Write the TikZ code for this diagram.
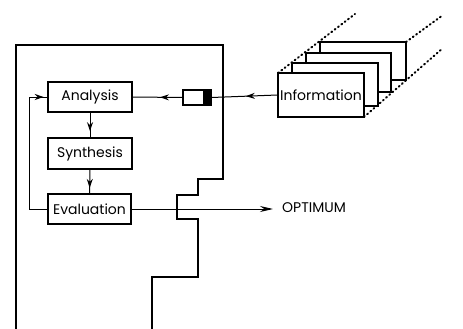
\documentclass[tikz,border=0pt]{standalone}
\usepackage{fontspec}
\setmainfont{Poppins}
\usetikzlibrary{arrows.meta,decorations.markings}
\tikzset{
  wall/.style={line width=1.6pt, line join=miter},
  stagebox/.style={draw, line width=1.2pt, fill=white, inner sep=0pt,
    font=\fontsize{14}{16}\selectfont},
  sheet/.style={draw, line width=1.2pt, fill=white},
  link/.style={line width=1pt},
  dots/.style={line width=2pt, dash pattern=on 1pt off 3.2pt, line cap=round},
  midarrow/.style={postaction={decorate}, decoration={markings,
    mark=at position #1 with {\arrow{Stealth[length=9pt,width=6pt]}}}}
}
\begin{document}
\begin{tikzpicture}[x=1pt,y=-1pt]
\useasboundingbox (0,0) rectangle (463,329);

% stepped boundary of the system
\draw[wall] (16,329) -- (16,45) -- (223,45) -- (223,179) -- (198,179)
  -- (198,195) -- (177,195) -- (177,219) -- (198,219) -- (198,277)
  -- (152,277) -- (152,329);

% stack of information sheets, with dotted continuation lines
\coordinate (tl0) at (278,73);  \coordinate (tlend) at (355,14);
\coordinate (tr3) at (406,42);  \coordinate (trend) at (443,15);
\coordinate (br0) at (364,117); \coordinate (brend) at (443,48);
\draw[dots] (tl0) -- (tlend);
\draw[dots] (tr3) -- (trend);
\draw[dots] (br0) -- (brend);
\draw[sheet] (320,42) rectangle (406,80);
\draw[sheet] (306,53) rectangle (391,92);
\draw[sheet] (292,63) rectangle (378,106);
\node[stagebox, minimum width=86pt, minimum height=44pt] (info) at (321,95) {Information};

% design loop
\node[stagebox, minimum width=84pt, minimum height=30pt] (ana) at (90,97) {Analysis};
\node[stagebox, minimum width=84pt, minimum height=31pt] (syn) at (90,153.5) {Synthesis};
\node[stagebox, minimum width=83pt, minimum height=30pt] (eva) at (89.5,209) {Evaluation};

% input filter: open slot with a dark end
\node[draw, line width=1.2pt, fill=white, minimum width=28pt, minimum height=15pt,
  inner sep=0pt] (gate) at (197,97.5) {};
\fill ([xshift=-9pt]gate.north east) rectangle (gate.south east);

\node[font=\fontsize{14}{16}\selectfont, anchor=west, inner sep=0pt] (opt) at (282,208) {OPTIMUM};

\draw[link, midarrow=0.75] (ana) -- (syn);
\draw[link, midarrow=0.77] (syn) -- (eva);
\coordinate (fb) at (29,97);
\draw[link] (eva.west) -| (fb);
\draw[link, midarrow=0.8] (fb) -- (ana.west);
\draw[link, midarrow=0.48] (info.west) -- (gate.east);
\draw[link, midarrow=0.45] (gate.west) -- (ana.east);
\draw[link, -{Stealth[length=13pt,width=6pt]}, shorten >=9pt] (eva.east) -- (eva.east -| opt.west);
\end{tikzpicture}
\end{document}
